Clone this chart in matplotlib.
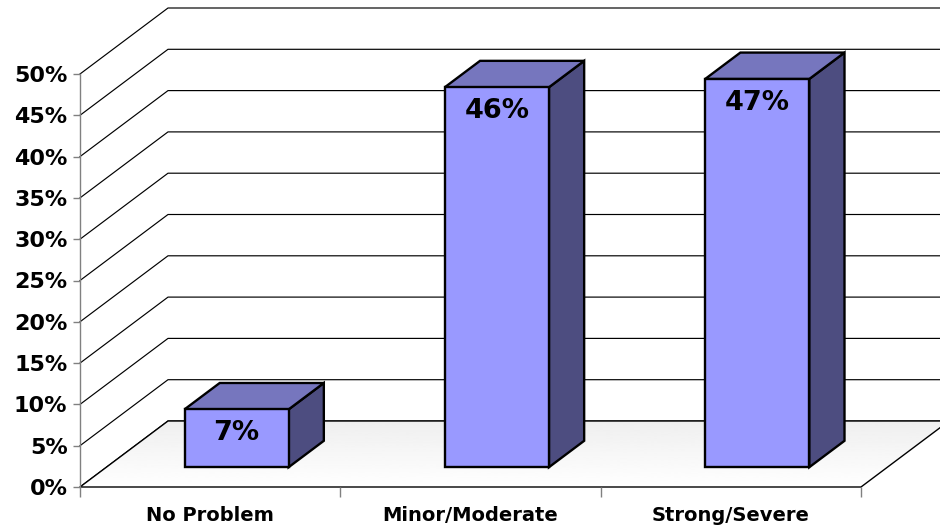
import matplotlib
matplotlib.use('Agg')
import matplotlib.pyplot as plt
import numpy as np
from matplotlib.patches import Polygon

categories = ['No Problem', 'Minor/Moderate', 'Strong/Severe']
values = [7, 46, 47]
y_ticks = [0, 5, 10, 15, 20, 25, 30, 35, 40, 45, 50]
y_labels = ['0%', '5%', '10%', '15%', '20%', '25%', '30%', '35%', '40%', '45%', '50%']

plt.rcParams['font.family'] = 'DejaVu Sans'

fig = plt.figure(figsize=(9.4, 5.29), dpi=100)
ax = fig.add_axes([80 / 940, 42 / 529, 781 / 940, 413 / 529])
ax.set_xlim(0, len(categories))
ax.set_ylim(0, 50)

# oblique depth of the 3d box, pixels -> data units
n = len(categories)
dx = 88 / ax.bbox.width * n
dy = 66 / ax.bbox.height * 50


def pt(x, v, f):
    return (x + f * dx, v + f * dy)


# side wall + back wall gridlines
for v in y_ticks:
    xs = [0, dx, n + dx]
    ys = [v, v + dy, v + dy]
    ax.plot(xs, ys, color='black', lw=0.85, clip_on=False, zorder=1)

# floor with a light gradient
floor = Polygon([pt(0, 0, 0), pt(n, 0, 0), pt(n, 0, 1), pt(0, 0, 1)], closed=True,
                fc='none', ec='black', lw=1.0, clip_on=False, zorder=1.5)
ax.add_patch(floor)
grad = np.linspace(0.935, 1.0, 100).reshape(-1, 1)
im = ax.imshow(grad, extent=[0, n + dx, 0, dy], aspect='auto', cmap='gray',
               vmin=0, vmax=1, zorder=1.2)
im.set_clip_path(floor)
im.set_clip_box(fig.bbox)
ax.set_xlim(0, n)
ax.set_ylim(0, 50)

# bars
front_c, top_c, side_c = '#9999FF', '#7676BE', '#4D4D80'
f0, f1 = 0.3, 0.7
w = 0.4
for i, v in enumerate(values):
    x0 = i + 0.5 - w / 2
    x1 = i + 0.5 + w / 2
    front = [pt(x0, 0, f0), pt(x1, 0, f0), pt(x1, v, f0), pt(x0, v, f0)]
    top = [pt(x0, v, f0), pt(x1, v, f0), pt(x1, v, f1), pt(x0, v, f1)]
    side = [pt(x1, 0, f0), pt(x1, 0, f1), pt(x1, v, f1), pt(x1, v, f0)]
    for poly, c in [(side, side_c), (top, top_c), (front, front_c)]:
        ax.add_patch(Polygon(poly, closed=True, fc=c, ec='black', lw=1.7,
                             joinstyle='miter', clip_on=False, zorder=3))
    lx, ly = pt(i + 0.5, v - 2.9, f0)
    ax.text(lx, ly, f'{v}%', ha='center', va='center', fontsize=19.5,
            fontweight='bold', zorder=5)

# axes
for s in ['top', 'right', 'bottom']:
    ax.spines[s].set_visible(False)
ax.spines['left'].set_color('#808080')
ax.spines['left'].set_linewidth(1.0)

ax.set_yticks(y_ticks)
ax.set_yticklabels(y_labels, fontsize=16, fontweight='bold')
ax.tick_params(axis='y', length=5, width=1, color='#808080', pad=4)

ax.set_xticks(np.arange(n + 1))
ax.set_xticklabels([])
ax.set_xticks(np.arange(n) + 0.5, minor=True)
ax.set_xticklabels(categories, minor=True, fontsize=14, fontweight='bold')
ax.tick_params(axis='x', which='major', length=7, width=1, color='#808080')
ax.tick_params(axis='x', which='minor', length=0, pad=14)

fig.savefig('out.png', dpi=100)
